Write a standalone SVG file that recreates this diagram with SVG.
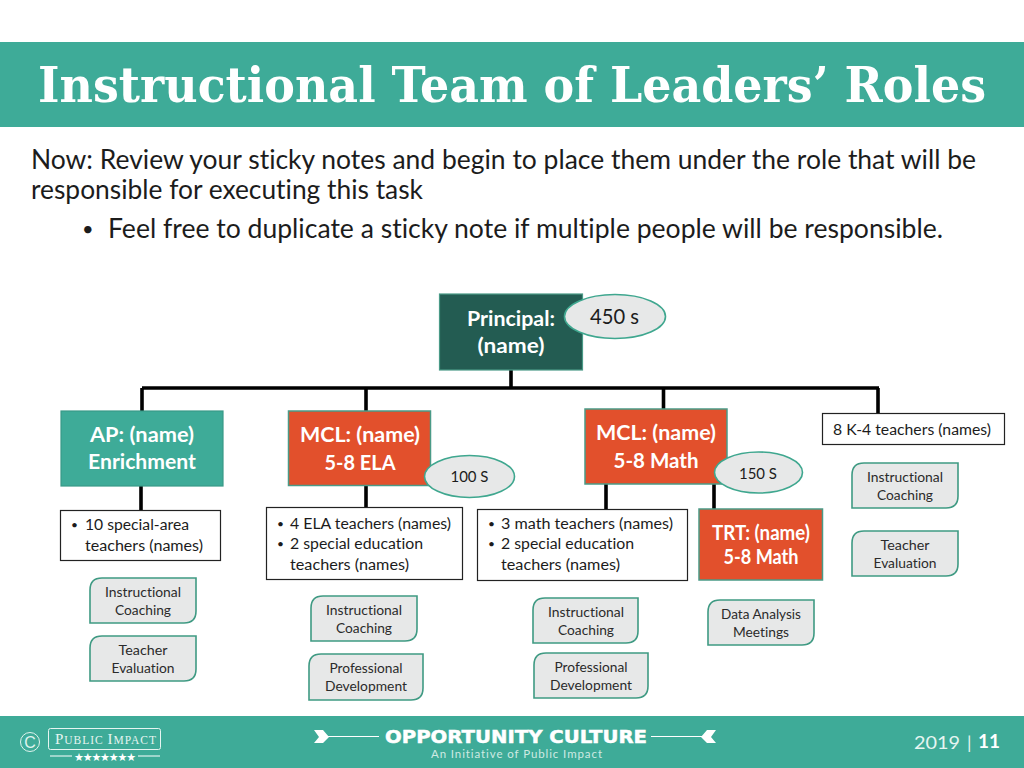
<svg xmlns="http://www.w3.org/2000/svg" width="1024" height="768" viewBox="0 0 1024 768">
<style>
text{font-family:"Lato","Open Sans","Liberation Sans",sans-serif;font-variant-ligatures:none}
.t{text-anchor:middle}
.body{font-size:26px;fill:#1c1c1c}
.w{fill:#fff;font-weight:700;font-size:21px;text-anchor:middle}
.s{font-size:15.5px;fill:#1c1c1c}
.c{font-size:14px;fill:#2b2b2b;text-anchor:middle}
.tag{fill:#e7e8e8;stroke:#3f9a83;stroke-width:1.6}
.box{fill:#fff;stroke:#222;stroke-width:1.2}
.el{fill:#e7e8e8;stroke:#3fa78f;stroke-width:1.6}
.red{fill:#e2502c;stroke:#4a9a87;stroke-width:1.5}
.conn line{stroke:#000;stroke-width:3.6}
.band{fill:#3eab98}
</style>
<rect width="1024" height="768" fill="#fff"/>
<g id="header">
<rect class="band" x="0" y="42" width="1024" height="85"/>
<text x="38" y="102" textLength="948" lengthAdjust="spacingAndGlyphs" style="font-family:'DejaVu Serif Condensed','DejaVu Serif','Liberation Serif',serif;font-stretch:condensed;font-weight:700;font-size:49px;fill:#fff">Instructional Team of Leaders’ Roles</text>
</g>
<g id="intro">
<text class="body" x="31" y="169" textLength="945" lengthAdjust="spacingAndGlyphs">Now: Review your sticky notes and begin to place them under the role that will be</text>
<text class="body" x="31" y="199" textLength="392" lengthAdjust="spacingAndGlyphs">responsible for executing this task</text>
<text x="82" y="236" style="font-size:20px;fill:#1c1c1c">•</text>
<text class="body" x="108" y="238" textLength="835" lengthAdjust="spacingAndGlyphs">Feel free to duplicate a sticky note if multiple people will be responsible.</text>
</g>
<g id="connectors" class="conn">
<line x1="142" y1="388" x2="879" y2="388"/>
<line x1="511" y1="368" x2="511" y2="388"/>
<line x1="142" y1="388" x2="142" y2="411"/>
<line x1="366" y1="388" x2="366" y2="411"/>
<line x1="663.500" y1="388" x2="663.500" y2="409"/>
<line x1="878" y1="388" x2="878" y2="414"/>
<line x1="141" y1="485" x2="141" y2="510"/>
<line x1="366" y1="485" x2="366" y2="508"/>
<line x1="606" y1="483" x2="606" y2="510"/>
<line x1="714" y1="483" x2="714" y2="509"/>
</g>
<g id="principal">
<rect x="439.500" y="294" width="143" height="76" fill="#235c52" stroke="#4a9a87" stroke-width="1.200"/>
<text class="w" x="511" y="326" textLength="88" lengthAdjust="spacingAndGlyphs">Principal:</text>
<text class="w" x="511" y="353" textLength="67" lengthAdjust="spacingAndGlyphs">(name)</text>
</g>
<g id="badge450">
<ellipse class="el" cx="615" cy="316.500" rx="50.500" ry="22"/>
<text x="614.500" y="324" class="t" font-size="21" fill="#1c1c1c" textLength="49" lengthAdjust="spacingAndGlyphs">450 s</text>
</g>
<g id="ap">
<rect x="61" y="411" width="162" height="75" fill="#3eab98" stroke="#3a9a88" stroke-width="1.200"/>
<text class="w" x="142" y="442" textLength="104" lengthAdjust="spacingAndGlyphs">AP: (name)</text>
<text class="w" x="142" y="469" textLength="108" lengthAdjust="spacingAndGlyphs">Enrichment</text>
</g>
<g id="mcl-ela">
<rect class="red" x="288.500" y="411" width="142" height="74.500"/>
<text class="w" x="360" y="442" textLength="120" lengthAdjust="spacingAndGlyphs">MCL: (name)</text>
<text class="w" x="360" y="470" textLength="71" lengthAdjust="spacingAndGlyphs">5-8 ELA</text>
</g>
<g id="badge100">
<ellipse class="el" cx="469.500" cy="476.500" rx="45" ry="21"/>
<text x="469.500" y="482" class="t" font-size="16" fill="#1c1c1c" textLength="38" lengthAdjust="spacingAndGlyphs">100 S</text>
</g>
<g id="mcl-math">
<rect class="red" x="585" y="409" width="142" height="75"/>
<text class="w" x="656" y="440" textLength="120" lengthAdjust="spacingAndGlyphs">MCL: (name)</text>
<text class="w" x="656" y="468" textLength="85" lengthAdjust="spacingAndGlyphs">5-8 Math</text>
</g>
<g id="badge150">
<ellipse class="el" cx="758.500" cy="472.500" rx="44" ry="20.500"/>
<text x="758" y="479" class="t" font-size="16" fill="#1c1c1c" textLength="38" lengthAdjust="spacingAndGlyphs">150 S</text>
</g>
<g id="k4">
<rect class="box" x="822.500" y="413.500" width="182" height="31"/>
<text class="s" x="833" y="435" textLength="158" lengthAdjust="spacingAndGlyphs">8 K-4 teachers (names)</text>
</g>
<g id="special">
<rect class="box" x="60.500" y="510.500" width="160" height="50"/>
<text x="71" y="529" style="font-size:12px;fill:#1c1c1c">•</text>
<text class="s" x="85" y="530" textLength="104" lengthAdjust="spacingAndGlyphs">10 special-area</text>
<text class="s" x="85" y="551" textLength="118" lengthAdjust="spacingAndGlyphs">teachers (names)</text>
</g>
<g id="ela-teachers">
<rect class="box" x="266.500" y="507.500" width="196" height="72"/>
<text x="277" y="528" style="font-size:12px;fill:#1c1c1c">•</text>
<text class="s" x="290" y="529" textLength="161" lengthAdjust="spacingAndGlyphs">4 ELA teachers (names)</text>
<text x="277" y="548" style="font-size:12px;fill:#1c1c1c">•</text>
<text class="s" x="290" y="549" textLength="133" lengthAdjust="spacingAndGlyphs">2 special education</text>
<text class="s" x="290" y="570" textLength="119" lengthAdjust="spacingAndGlyphs">teachers (names)</text>
</g>
<g id="math-teachers">
<rect class="box" x="477.500" y="509.500" width="210" height="71"/>
<text x="488" y="528" style="font-size:12px;fill:#1c1c1c">•</text>
<text class="s" x="501" y="529" textLength="172" lengthAdjust="spacingAndGlyphs">3 math teachers (names)</text>
<text x="488" y="548" style="font-size:12px;fill:#1c1c1c">•</text>
<text class="s" x="501" y="549" textLength="133" lengthAdjust="spacingAndGlyphs">2 special education</text>
<text class="s" x="501" y="570" textLength="119" lengthAdjust="spacingAndGlyphs">teachers (names)</text>
</g>
<g id="trt">
<rect class="red" x="699" y="509" width="123.500" height="71"/>
<text class="w" x="761" y="540" textLength="98" lengthAdjust="spacingAndGlyphs" style="font-size:20px">TRT: (name)</text>
<text class="w" x="761" y="564" textLength="75" lengthAdjust="spacingAndGlyphs" style="font-size:20px">5-8 Math</text>
</g>
<g id="ap-coaching">
<path class="tag" d="M102 578H196V611Q196 623 184 623H90V590Q90 578 102 578Z"/>
<text class="c" x="143" y="597" textLength="76" lengthAdjust="spacingAndGlyphs">Instructional</text>
<text class="c" x="143" y="615" textLength="56" lengthAdjust="spacingAndGlyphs">Coaching</text>
</g>
<g id="ap-eval">
<path class="tag" d="M102 636H196V669Q196 681 184 681H90V648Q90 636 102 636Z"/>
<text class="c" x="143" y="655" textLength="49" lengthAdjust="spacingAndGlyphs">Teacher</text>
<text class="c" x="143" y="673" textLength="63" lengthAdjust="spacingAndGlyphs">Evaluation</text>
</g>
<g id="ela-coaching">
<path class="tag" d="M323 596H417V629Q417 641 405 641H311V608Q311 596 323 596Z"/>
<text class="c" x="364" y="615" textLength="76" lengthAdjust="spacingAndGlyphs">Instructional</text>
<text class="c" x="364" y="633" textLength="56" lengthAdjust="spacingAndGlyphs">Coaching</text>
</g>
<g id="ela-pd">
<path class="tag" d="M321 654H423V688Q423 700 411 700H309V666Q309 654 321 654Z"/>
<text class="c" x="366" y="673" textLength="73" lengthAdjust="spacingAndGlyphs">Professional</text>
<text class="c" x="366" y="691" textLength="82" lengthAdjust="spacingAndGlyphs">Development</text>
</g>
<g id="math-coaching">
<path class="tag" d="M545 598H638V631Q638 643 626 643H533V610Q533 598 545 598Z"/>
<text class="c" x="586" y="617" textLength="76" lengthAdjust="spacingAndGlyphs">Instructional</text>
<text class="c" x="586" y="635" textLength="56" lengthAdjust="spacingAndGlyphs">Coaching</text>
</g>
<g id="math-pd">
<path class="tag" d="M546 653H648V686Q648 698 636 698H534V665Q534 653 546 653Z"/>
<text class="c" x="591" y="672" textLength="73" lengthAdjust="spacingAndGlyphs">Professional</text>
<text class="c" x="591" y="690" textLength="82" lengthAdjust="spacingAndGlyphs">Development</text>
</g>
<g id="trt-data">
<path class="tag" d="M720 600H814V633Q814 645 802 645H708V612Q708 600 720 600Z"/>
<text class="c" x="761" y="619" textLength="80" lengthAdjust="spacingAndGlyphs">Data Analysis</text>
<text class="c" x="761" y="637" textLength="56" lengthAdjust="spacingAndGlyphs">Meetings</text>
</g>
<g id="k4-coaching">
<path class="tag" d="M864 463H958V496Q958 508 946 508H852V475Q852 463 864 463Z"/>
<text class="c" x="905" y="482" textLength="76" lengthAdjust="spacingAndGlyphs">Instructional</text>
<text class="c" x="905" y="500" textLength="56" lengthAdjust="spacingAndGlyphs">Coaching</text>
</g>
<g id="k4-eval">
<path class="tag" d="M864 531H958V564Q958 576 946 576H852V543Q852 531 864 531Z"/>
<text class="c" x="905" y="550" textLength="49" lengthAdjust="spacingAndGlyphs">Teacher</text>
<text class="c" x="905" y="568" textLength="63" lengthAdjust="spacingAndGlyphs">Evaluation</text>
</g>
<g id="footer">
<rect class="band" x="0" y="716" width="1024" height="52"/>
<circle cx="30" cy="742" r="9.500" fill="none" stroke="#dff3ee" stroke-width="1"/>
<text x="30" y="748" text-anchor="middle" style="font-family:'Liberation Sans',sans-serif;font-size:16px;fill:#dff3ee">C</text>
<rect x="48.500" y="728.500" width="112" height="21" rx="2" fill="none" stroke="#e6f5f1" stroke-width="1"/>
<text x="55" y="744" textLength="101" lengthAdjust="spacing" style="font-family:'Liberation Serif',serif;font-size:15px;fill:#e6f5f1">P<tspan font-size="11.500">UBLIC </tspan>I<tspan font-size="11.500">MPACT</tspan></text>
<path d="M50 756H72M138 756H160" stroke="#fff" stroke-width="1"/>
<text x="74" y="761" textLength="62" lengthAdjust="spacing" style="font-family:'DejaVu Sans',sans-serif;font-size:11px;fill:#fff">★★★★★★★</text>
<path d="M314 730H323L329 737L323 743H314L319 737Z" fill="#fff"/>
<path d="M325 736.500H379" stroke="#fff" stroke-width="1.200"/>
<path d="M716 730H707L701 737L707 743H716L711 737Z" fill="#fff"/>
<path d="M651 736.500H705" stroke="#fff" stroke-width="1.200"/>
<text x="385" y="743" textLength="262" lengthAdjust="spacingAndGlyphs" style="font-family:'DejaVu Sans',sans-serif;font-weight:700;font-size:18px;fill:#fff;stroke:#fff;stroke-width:.5">OPPORTUNITY CULTURE</text>
<text x="431" y="758" textLength="171" lengthAdjust="spacing" style="font-size:11.500px;fill:#cfeae3">An Initiative of Public Impact</text>
<text x="914" y="749" textLength="46" lengthAdjust="spacingAndGlyphs" style="font-size:18px;fill:#e6f5f1">2019</text>
<text x="967" y="749" style="font-size:18px;fill:#e6f5f1">|</text>
<text x="978" y="748" textLength="22" lengthAdjust="spacingAndGlyphs" style="font-size:19px;font-weight:700;fill:#fff">11</text>
</g>
</svg>
